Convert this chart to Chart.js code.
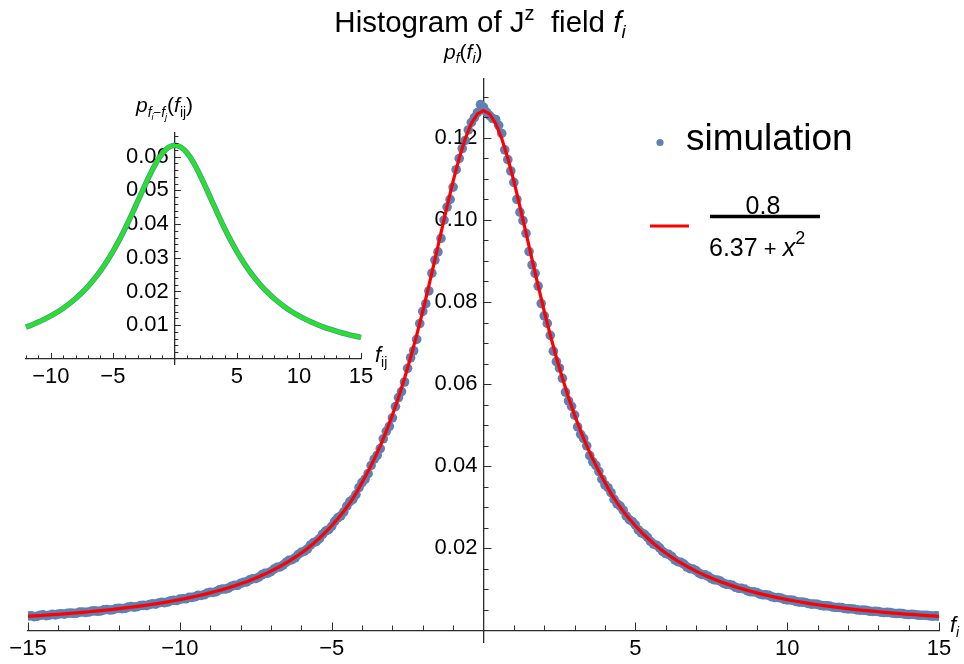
<!DOCTYPE html>
<html>
<head>
<meta charset="utf-8">
<script src="https://cdn.jsdelivr.net/npm/chart.js@4.4.1/dist/chart.umd.min.js"></script>
<style>
  html, body { margin: 0; padding: 0; background: #fff; }
  #wrap { position: relative; width: 964px; height: 664px; }
  canvas { position: absolute; left: 0; top: 0; }
</style>
</head>
<body>
<div id="wrap">
  <canvas id="main" width="964" height="664"></canvas>
  <canvas id="inset" width="400" height="400"></canvas>
</div>
<script>
// ---- data ----
// histogram bins of f_i (centres)
const simX = [-15,-14.9,-14.8,-14.7,-14.6,-14.5,-14.4,-14.3,-14.2,-14.1,-14,-13.9,-13.8,-13.7,-13.6,-13.5,-13.4,-13.3,-13.2,-13.1,
  -13,-12.9,-12.8,-12.7,-12.6,-12.5,-12.4,-12.3,-12.2,-12.1,-12,-11.9,-11.8,-11.7,-11.6,-11.5,-11.4,-11.3,-11.2,-11.1,
  -11,-10.9,-10.8,-10.7,-10.6,-10.5,-10.4,-10.3,-10.2,-10.1,-10,-9.9,-9.8,-9.7,-9.6,-9.5,-9.4,-9.3,-9.2,-9.1,
  -9,-8.9,-8.8,-8.7,-8.6,-8.5,-8.4,-8.3,-8.2,-8.1,-8,-7.9,-7.8,-7.7,-7.6,-7.5,-7.4,-7.3,-7.2,-7.1,
  -7,-6.9,-6.8,-6.7,-6.6,-6.5,-6.4,-6.3,-6.2,-6.1,-6,-5.9,-5.8,-5.7,-5.6,-5.5,-5.4,-5.3,-5.2,-5.1,
  -5,-4.9,-4.8,-4.7,-4.6,-4.5,-4.4,-4.3,-4.2,-4.1,-4,-3.9,-3.8,-3.7,-3.6,-3.5,-3.4,-3.3,-3.2,-3.1,
  -3,-2.9,-2.8,-2.7,-2.6,-2.5,-2.4,-2.3,-2.2,-2.1,-2,-1.9,-1.8,-1.7,-1.6,-1.5,-1.4,-1.3,-1.2,-1.1,
  -1,-0.9,-0.8,-0.7,-0.6,-0.5,-0.4,-0.3,-0.2,-0.1,0,
  0.1,0.2,0.3,0.4,0.5,0.6,0.7,0.8,0.9,1,1.1,1.2,1.3,1.4,1.5,1.6,1.7,1.8,1.9,2,
  2.1,2.2,2.3,2.4,2.5,2.6,2.7,2.8,2.9,3,3.1,3.2,3.3,3.4,3.5,3.6,3.7,3.8,3.9,4,
  4.1,4.2,4.3,4.4,4.5,4.6,4.7,4.8,4.9,5,5.1,5.2,5.3,5.4,5.5,5.6,5.7,5.8,5.9,6,
  6.1,6.2,6.3,6.4,6.5,6.6,6.7,6.8,6.9,7,7.1,7.2,7.3,7.4,7.5,7.6,7.7,7.8,7.9,8,
  8.1,8.2,8.3,8.4,8.5,8.6,8.7,8.8,8.9,9,9.1,9.2,9.3,9.4,9.5,9.6,9.7,9.8,9.9,10,
  10.1,10.2,10.3,10.4,10.5,10.6,10.7,10.8,10.9,11,11.1,11.2,11.3,11.4,11.5,11.6,11.7,11.8,11.9,12,
  12.1,12.2,12.3,12.4,12.5,12.6,12.7,12.8,12.9,13,13.1,13.2,13.3,13.4,13.5,13.6,13.7,13.8,13.9,14,
  14.1,14.2,14.3,14.4,14.5,14.6,14.7,14.8,14.9,15];

const simulation = [.00352,.00361,.00338,.00347,.00371,.00382,.00360,.00372,.00392,.00381,
  .00401,.00409,.00398,.00419,.00425,.00416,.00421,.00448,.00452,.00441,
  .00449,.00471,.00478,.00469,.00476,.00503,.00512,.00498,.00507,.00535,
  .00541,.00532,.00540,.00571,.00582,.00569,.00579,.00608,.00612,.00609,
  .00633,.00652,.00641,.00671,.00688,.00679,.00693,.00726,.00738,.00731,
  .00764,.00772,.00772,.00809,.00806,.00821,.00858,.00853,.00871,.00911,
  .00928,.00926,.00947,.00989,.01012,.01009,.01031,.01078,.01101,.01102,
  .01149,.01171,.01183,.01232,.01262,.01266,.01298,.01357,.01391,.01398,
  .01436,.01497,.01538,.01549,.01593,.01661,.01711,.01724,.01772,.01852,
  .01905,.01931,.01985,.02078,.02141,.02171,.02238,.02344,.02421,.02455,
  .02536,.02658,.02745,.02792,.02889,.03031,.03138,.03196,.03311,.03479,
  .03604,.03683,.03819,.04019,.04171,.04268,.04431,.04668,.04851,.04972,
  .05178,.05452,.05672,.05818,.06051,.06384,.06642,.06812,.07089,.07475,
  .07771,.07958,.08268,.08702,.09021,.09219,.09548,.09995,.10312,.10498,
  .10798,.11221,.11495,.11738,.11934,.12189,.12372,.12490,.12611,.12806,
  .12742,
  .12621,.12538,.12467,.12445,.12302,.12104,.11705,.11466,.11190,.10912,
  .10497,.10187,.09981,.09672,.09228,.08903,.08697,.08387,.07961,.07662,
  .07478,.07188,.06803,.06548,.06392,.06142,.05806,.05591,.05459,.05246,
  .04961,.04778,.04672,.04497,.04258,.04108,.04021,.03872,.03684,.03549,
  .03478,.03357,.03193,.03085,.03031,.02928,.02789,.02701,.02655,.02571,
  .02449,.02377,.02342,.02268,.02168,.02103,.02077,.02014,.01925,.01874,
  .01853,.01799,.01721,.01676,.01660,.01618,.01546,.01508,.01496,.01457,
  .01395,.01362,.01354,.01321,.01266,.01236,.01230,.01202,.01152,.01126,
  .01121,.01098,.01053,.01029,.01027,.01007,.00966,.00944,.00943,.00927,
  .00889,.00870,.00869,.00856,.00821,.00803,.00803,.00790,.00759,.00744,
  .00744,.00733,.00705,.00691,.00692,.00683,.00656,.00643,.00645,.00636,
  .00612,.00600,.00602,.00595,.00572,.00561,.00563,.00556,.00536,.00526,
  .00529,.00522,.00502,.00494,.00497,.00491,.00472,.00464,.00468,.00462,
  .00444,.00438,.00441,.00436,.00419,.00413,.00416,.00411,.00396,.00390,
  .00394,.00389,.00374,.00370,.00373,.00368,.00355,.00351,.00355,.00349];

// red fit curve 0.8/(6.37+x^2), sampled every 0.2
const fitX = simX.filter((x, i) => i % 2 === 0);
const fitCurve = [.00346,.00355,.00364,.00374,.00385,.00395,.00406,.00418,.00430,.00443,
  .00456,.00470,.00484,.00500,.00515,.00532,.00549,.00568,.00587,.00607,
  .00628,.00650,.00674,.00699,.00725,.00752,.00781,.00812,.00845,.00879,
  .00916,.00955,.00996,.01040,.01087,.01137,.01190,.01247,.01309,.01374,
  .01445,.01521,.01602,.01690,.01785,.01888,.01999,.02120,.02252,.02394,
  .02550,.02720,.02906,.03109,.03332,.03605,.03875,.04172,.04498,.04855,
  .05247,.05675,.06142,.06648,.07193,.07777,.08392,.09031,.09681,.10325,
  .10942,.11503,.11982,.12349,.12580,.12660,
  .12580,.12349,.11982,.11503,.10942,
  .10325,.09681,.09031,.08392,.07777,.07193,.06648,.06142,.05675,.05247,
  .04855,.04498,.04172,.03875,.03605,.03332,.03109,.02906,.02720,.02550,
  .02394,.02252,.02120,.01999,.01888,.01785,.01690,.01602,.01521,.01445,
  .01374,.01309,.01247,.01190,.01137,.01087,.01040,.00996,.00955,.00916,
  .00879,.00845,.00812,.00781,.00752,.00725,.00699,.00674,.00650,.00628,
  .00607,.00587,.00568,.00549,.00532,.00515,.00500,.00484,.00470,.00456,
  .00443,.00430,.00418,.00406,.00395,.00385,.00374,.00364,.00355,.00346];

// inset: distribution of f_i - f_j
const insetX = [-12,-11.5,-11,-10.5,-10,-9.5,-9,-8.5,-8,-7.5,-7,-6.5,-6,-5.5,-5,-4.5,-4,-3.5,-3,-2.5,-2,-1.5,-1,-0.5,0,
  0.5,1,1.5,2,2.5,3,3.5,4,4.5,5,5.5,6,6.5,7,7.5,8,8.5,9,9.5,10,10.5,11,11.5,12,12.5,13,13.5,14,14.5,15];
const insetY = [.00944,.01015,.01093,.01180,.01276,.01384,.01504,.01640,.01791,.01962,.02153,.02368,.02610,.02882,.03183,
  .03515,.03878,.04266,.04672,.05080,.05470,.05820,.06098,.06278,.06340,
  .06278,.06098,.05820,.05470,.05080,.04672,.04266,.03878,.03515,.03183,.02882,.02610,.02368,.02153,.01962,
  .01791,.01640,.01504,.01384,.01276,.01180,.01093,.01015,.00944,.00881,.00823,.00770,.00722,.00679,.00639];

const mainXTicks = [-15, -10, -5, 5, 10, 15];
const mainXLabels = ['\u221215', '\u221210', '\u22125', '5', '10', '15'];
const mainYTicks = [0.02, 0.04, 0.06, 0.08, 0.10, 0.12];
const mainYLabels = ['0.02', '0.04', '0.06', '0.08', '0.10', '0.12'];
const insetXTicks = [-10, -5, 5, 10, 15];
const insetXLabels = ['\u221210', '\u22125', '5', '10', '15'];
const insetYTicks = [0.01, 0.02, 0.03, 0.04, 0.05, 0.06];
const insetYLabels = ['0.01', '0.02', '0.03', '0.04', '0.05', '0.06'];

const FAM = '"Liberation Sans", Arial, sans-serif';
const AXIS = '#2b2b2b';
const BLUE = '#5E81B5';
Chart.defaults.color = '#000';
Chart.defaults.font.family = FAM;

// draws text made of pieces: [text, size, italic, dy]
function rich(ctx, x, y, parts, align) {
  let w = 0;
  parts.forEach(p => { ctx.font = (p[2] ? 'italic ' : '') + p[1] + 'px ' + FAM; w += ctx.measureText(p[0]).width; });
  let cx = align === 'center' ? x - w / 2 : x;
  ctx.textAlign = 'left';
  ctx.textBaseline = 'alphabetic';
  parts.forEach(p => {
    ctx.font = (p[2] ? 'italic ' : '') + p[1] + 'px ' + FAM;
    ctx.fillText(p[0], cx, y + (p[3] || 0));
    cx += ctx.measureText(p[0]).width;
  });
}

// Mathematica-like inward tick marks, major + minor
function tickMarks(chart, o) {
  const { ctx, scales: { x, y } } = chart;
  const ax = x.getPixelForValue(0), ay = y.getPixelForValue(0);
  ctx.save();
  ctx.strokeStyle = AXIS;
  ctx.lineWidth = 1;
  ctx.beginPath();
  for (let i = 0; ; i++) {
    const v = o.xFrom + i * o.xMinor;
    if (v > o.xTo + 1e-9) break;
    if (Math.abs(v) < 1e-9) continue;
    const major = Math.abs(v / o.xMajor - Math.round(v / o.xMajor)) < 1e-6;
    const px = Math.round(x.getPixelForValue(v)) + 0.5;
    ctx.moveTo(px, ay);
    ctx.lineTo(px, ay - (major ? o.majLen : o.minLen));
  }
  for (let i = 1; ; i++) {
    const v = i * o.yMinor;
    if (v > o.yTo + 1e-9) break;
    const major = Math.abs(v / o.yMajor - Math.round(v / o.yMajor)) < 1e-6;
    const py = Math.round(y.getPixelForValue(v)) + 0.5;
    ctx.moveTo(ax, py);
    ctx.lineTo(ax + (major ? o.majLen : o.minLen), py);
  }
  ctx.stroke();
  ctx.restore();
}

function axisScales(xMin, xMax, yMin, yMax, xT, xL, yT, yL, pad) {
  return {
    x: {
      type: 'linear', min: xMin, max: xMax, position: { y: 0 },
      grid: { display: false, drawTicks: false },
      border: { display: true, color: AXIS, width: 1.3 },
      afterBuildTicks: s => { s.ticks = xT.map(v => ({ value: v })); },
      ticks: { font: { size: 22 }, padding: pad, maxRotation: 0, autoSkip: false,
        callback: (v) => xL[xT.indexOf(v)] }
    },
    y: {
      type: 'linear', min: yMin, max: yMax, position: { x: 0 },
      grid: { display: false, drawTicks: false },
      border: { display: true, color: AXIS, width: 1.3 },
      afterBuildTicks: s => { s.ticks = yT.map(v => ({ value: v })); },
      ticks: { font: { size: 22 }, padding: 0, autoSkip: false,
        callback: (v) => { const i = yT.findIndex(t => Math.abs(t - v) < 1e-9); return i < 0 ? '' : yL[i] + ' '; } }
    }
  };
}

new Chart(document.getElementById('main'), {
  type: 'scatter',
  data: {
    datasets: [
      {
        label: '0.8/(6.37+x^2)',
        data: fitX.map((x, i) => ({ x: x, y: fitCurve[i] })),
        showLine: true, borderColor: '#ff0000', borderWidth: 3.2,
        pointRadius: 0, tension: 0, order: 0
      },
      {
        label: 'simulation',
        data: simX.map((x, i) => ({ x: x, y: simulation[i] })),
        backgroundColor: BLUE, borderWidth: 0, pointRadius: 4.8, order: 1
      }
    ]
  },
  options: {
    responsive: false, animation: false,
    layout: { padding: { left: 28, right: 25, top: 79, bottom: 22 } },
    plugins: { legend: { display: false }, tooltip: { enabled: false } },
    scales: axisScales(-15, 15, -0.0028, 0.1343, mainXTicks, mainXLabels, mainYTicks, mainYLabels, 5)
  },
  plugins: [{
    id: 'decor',
    afterDraw(chart) {
      tickMarks(chart, { xFrom: -15, xTo: 15, xMinor: 1, xMajor: 5, yMinor: 0.005, yMajor: 0.02, yTo: 0.1343, majLen: 8, minLen: 5 });
      const ctx = chart.ctx;
      ctx.save();
      ctx.fillStyle = '#000';
      // title
      rich(ctx, 480, 32, [['Histogram of ', 29.5], ['J', 29.5], ['z', 20, false, -12], ['  field ', 29.5], ['f', 29.5, true], ['i', 19, true, 6]], 'center');
      // axis labels
      rich(ctx, 444, 59, [['p', 21, true], ['f', 14, true, 4], ['(', 21], ['f', 21, true], ['i', 14, true, 4], [')', 21]]);
      rich(ctx, 950, 632, [['f', 22, true], ['i', 14, true, 5]]);
      // legend
      ctx.fillStyle = BLUE;
      ctx.beginPath(); ctx.arc(660, 142.5, 3.6, 0, Math.PI * 2); ctx.fill();
      ctx.fillStyle = '#000';
      rich(ctx, 686, 150, [['simulation', 37]]);
      ctx.strokeStyle = '#ff0000'; ctx.lineWidth = 3;
      ctx.beginPath(); ctx.moveTo(650, 226); ctx.lineTo(689, 226); ctx.stroke();
      ctx.strokeStyle = '#000'; ctx.lineWidth = 3.5;
      ctx.beginPath(); ctx.moveTo(710, 216.5); ctx.lineTo(820, 216.5); ctx.stroke();
      rich(ctx, 763, 214, [['0.8', 25]], 'center');
      rich(ctx, 709, 256, [['6.37', 25], [' + ', 22], ['x', 25, true], ['2', 18, false, -12]]);
      ctx.restore();
    }
  }]
});

new Chart(document.getElementById('inset'), {
  type: 'scatter',
  data: {
    datasets: [
      {
        label: 'fit',
        data: insetX.map((x, i) => ({ x: x, y: insetY[i] })),
        showLine: true, borderColor: '#22e622', borderWidth: 4,
        pointRadius: 0, tension: 0.3, order: 0, clip: false
      },
      {
        label: 'data',
        data: insetX.map((x, i) => ({ x: x, y: insetY[i] })),
        showLine: true, borderColor: BLUE, borderWidth: 5.5,
        pointRadius: 0, tension: 0.3, order: 1, clip: false
      }
    ]
  },
  options: {
    responsive: false, animation: false,
    layout: { padding: { left: 26, right: 39, top: 133, bottom: 36 } },
    plugins: { legend: { display: false }, tooltip: { enabled: false } },
    scales: axisScales(-12, 15, -0.0015, 0.067, insetXTicks, insetXLabels, insetYTicks, insetYLabels, 5)
  },
  plugins: [{
    id: 'insetDecor',
    afterDraw(chart) {
      tickMarks(chart, { xFrom: -12, xTo: 15, xMinor: 1, xMajor: 5, yMinor: 0.002, yMajor: 0.01, yTo: 0.067, majLen: 6, minLen: 3.5 });
      const ctx = chart.ctx;
      ctx.save();
      ctx.fillStyle = '#000';
      rich(ctx, 136, 112, [['p', 21, true], ['f', 14, true, 5], ['i', 9, true, 8], ['\u2212', 13, false, 5], ['f', 14, true, 5], ['j', 9, true, 8],
        ['(', 21], ['f', 21, true], ['ij', 14, false, 5], [')', 21]]);
      rich(ctx, 375, 362, [['f', 22, true], ['ij', 14, false, 5]]);
      ctx.restore();
    }
  }]
});
</script>
</body>
</html>
